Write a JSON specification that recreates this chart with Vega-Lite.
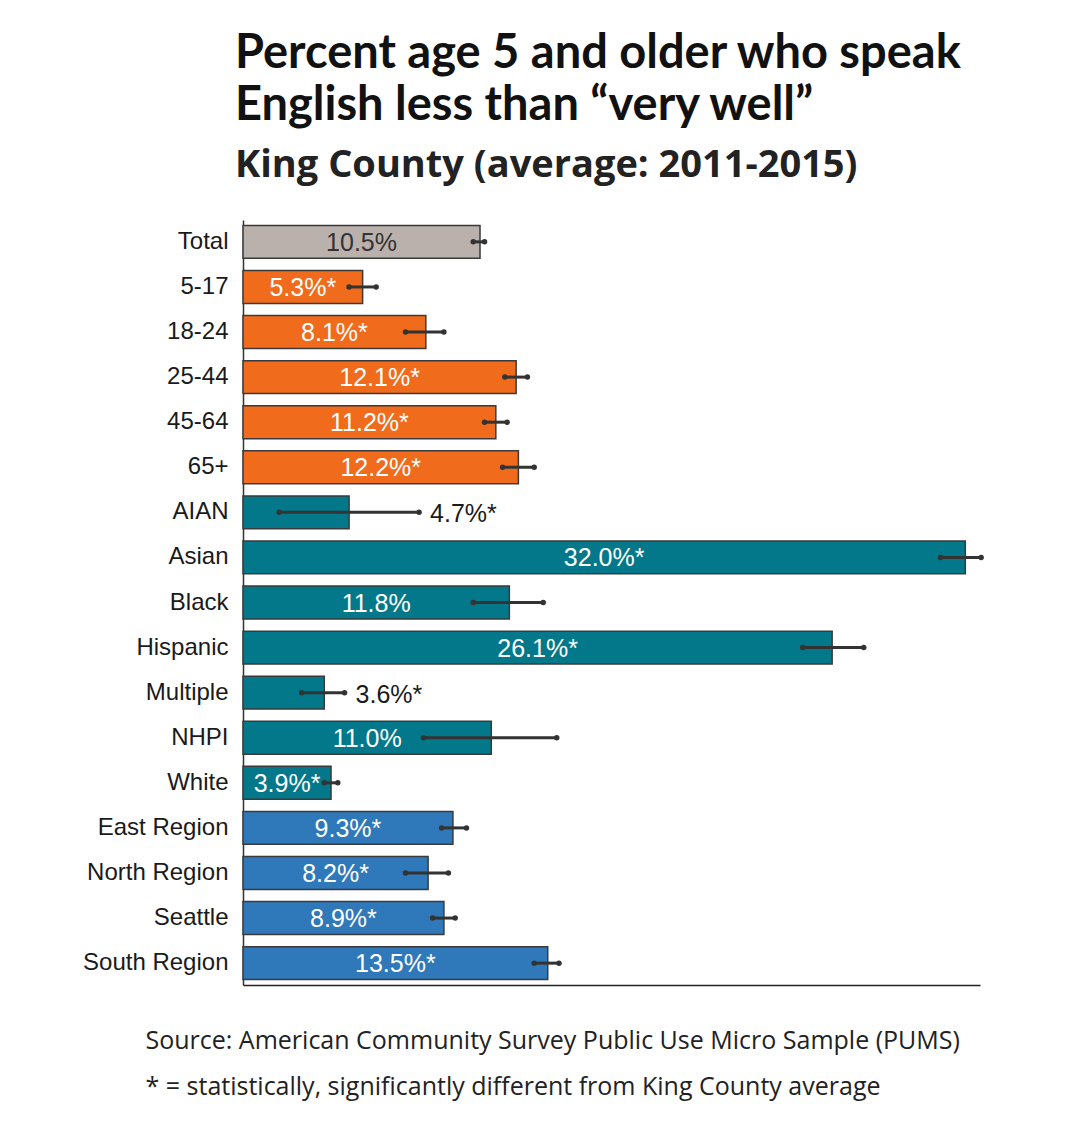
{
  "$schema": "https://vega.github.io/schema/vega-lite/v6.json",
  "autosize": "none",
  "width": 737,
  "height": 765,
  "padding": {"left": 243, "top": 220, "right": 111, "bottom": 139},
  "background": "white",
  "title": {
    "text": ["Percent age 5 and older who speak", "English less than “very well”"],
    "subtitle": "King County (average: 2011-2015)",
    "anchor": "start",
    "frame": "group",
    "dx": -8,
    "offset": 34,
    "font": "Lato, sans-serif",
    "fontWeight": "bold",
    "fontSize": 47,
    "lineHeight": 52,
    "color": "#111111",
    "subtitleFont": "Open Sans, sans-serif",
    "subtitleFontWeight": "bold",
    "subtitleFontSize": 38,
    "subtitleColor": "#222222",
    "subtitlePadding": 17
  },
  "data": {
    "values": [
      {"cat": "Total", "value": 10.5, "lo": 10.2, "hi": 10.7, "group": "total", "sig": false},
      {"cat": "5-17", "value": 5.3, "lo": 4.7, "hi": 5.9, "group": "age", "sig": true},
      {"cat": "18-24", "value": 8.1, "lo": 7.2, "hi": 8.9, "group": "age", "sig": true},
      {"cat": "25-44", "value": 12.1, "lo": 11.6, "hi": 12.6, "group": "age", "sig": true},
      {"cat": "45-64", "value": 11.2, "lo": 10.7, "hi": 11.7, "group": "age", "sig": true},
      {"cat": "65+", "value": 12.2, "lo": 11.5, "hi": 12.9, "group": "age", "sig": true},
      {"cat": "AIAN", "value": 4.7, "lo": 1.6, "hi": 7.8, "group": "race", "sig": true},
      {"cat": "Asian", "value": 32.0, "lo": 30.9, "hi": 32.7, "group": "race", "sig": true},
      {"cat": "Black", "value": 11.8, "lo": 10.2, "hi": 13.3, "group": "race", "sig": false},
      {"cat": "Hispanic", "value": 26.1, "lo": 24.8, "hi": 27.5, "group": "race", "sig": true},
      {"cat": "Multiple", "value": 3.6, "lo": 2.6, "hi": 4.5, "group": "race", "sig": true},
      {"cat": "NHPI", "value": 11.0, "lo": 8.0, "hi": 13.9, "group": "race", "sig": false},
      {"cat": "White", "value": 3.9, "lo": 3.6, "hi": 4.2, "group": "race", "sig": true},
      {"cat": "East Region", "value": 9.3, "lo": 8.8, "hi": 9.9, "group": "region", "sig": true},
      {"cat": "North Region", "value": 8.2, "lo": 7.2, "hi": 9.1, "group": "region", "sig": true},
      {"cat": "Seattle", "value": 8.9, "lo": 8.4, "hi": 9.4, "group": "region", "sig": true},
      {"cat": "South Region", "value": 13.5, "lo": 12.9, "hi": 14.0, "group": "region", "sig": true}
    ]
  },
  "transform": [
    {"calculate": "format(datum.value, '.1f') + '%' + (datum.sig ? '*' : '')", "as": "label"},
    {"calculate": "datum.value / 2", "as": "mid"}
  ],
  "encoding": {
    "y": {
      "field": "cat",
      "type": "nominal",
      "sort": null,
      "scale": {"paddingInner": 0.27, "paddingOuter": 0.12},
      "axis": {
        "title": null,
        "ticks": false,
        "labelPadding": 15,
        "labelFont": "Liberation Sans, Arial, sans-serif",
        "labelFontSize": 24,
        "labelColor": "#1a1a1a",
        "domainColor": "#333333",
        "domainWidth": 1.5
      }
    }
  },
  "layer": [
    {
      "mark": {"type": "bar", "stroke": "#3a3a3a", "strokeWidth": 1.5},
      "encoding": {
        "x": {
          "field": "value",
          "type": "quantitative",
          "scale": {"domain": [0, 32.65], "nice": false, "zero": true},
          "axis": {
            "grid": false,
            "ticks": false,
            "labels": false,
            "domainColor": "#222222",
            "domainWidth": 1.5,
            "title": ["Source: American Community Survey Public Use Micro Sample (PUMS)", "* = statistically, significantly different from King County average"],
            "titleFont": "Open Sans, sans-serif",
            "titleFontWeight": "normal",
            "titleFontSize": 25,
            "titleColor": "#222222",
            "titleAnchor": "start",
            "titleAlign": "left",
            "titleBaseline": "alphabetic",
            "titleX": -98,
            "titleY": 63,
            "titleLineHeight": 46
          }
        },
        "color": {
          "field": "group",
          "type": "nominal",
          "scale": {"domain": ["total", "age", "race", "region"], "range": ["#bab0ac", "#f06b1b", "#03788a", "#2f78ba"]},
          "legend": null
        }
      }
    },
    {
      "mark": {"type": "rule", "color": "#333333", "strokeWidth": 3},
      "encoding": {
        "x": {"field": "lo", "type": "quantitative"},
        "x2": {"field": "hi"}
      }
    },
    {
      "mark": {"type": "point", "shape": "circle", "filled": true, "color": "#333333", "size": 30, "opacity": 1},
      "encoding": {"x": {"field": "lo", "type": "quantitative"}}
    },
    {
      "mark": {"type": "point", "shape": "circle", "filled": true, "color": "#333333", "size": 30, "opacity": 1},
      "encoding": {"x": {"field": "hi", "type": "quantitative"}}
    },
    {
      "transform": [{"filter": "datum.lo >= 3"}],
      "mark": {"type": "text", "font": "Liberation Sans, Arial, sans-serif", "fontSize": 25, "align": "center", "baseline": "middle", "dy": 1},
      "encoding": {
        "x": {"field": "mid", "type": "quantitative"},
        "text": {"field": "label"},
        "color": {"condition": {"test": "datum.group === 'total'", "value": "#333333"}, "value": "white"}
      }
    },
    {
      "transform": [{"filter": "datum.lo < 3"}],
      "mark": {"type": "text", "font": "Liberation Sans, Arial, sans-serif", "fontSize": 25, "align": "left", "baseline": "middle", "dx": 11, "dy": 2, "color": "#1a1a1a"},
      "encoding": {
        "x": {"field": "hi", "type": "quantitative"},
        "text": {"field": "label"}
      }
    }
  ],
  "config": {"view": {"stroke": null}}
}
